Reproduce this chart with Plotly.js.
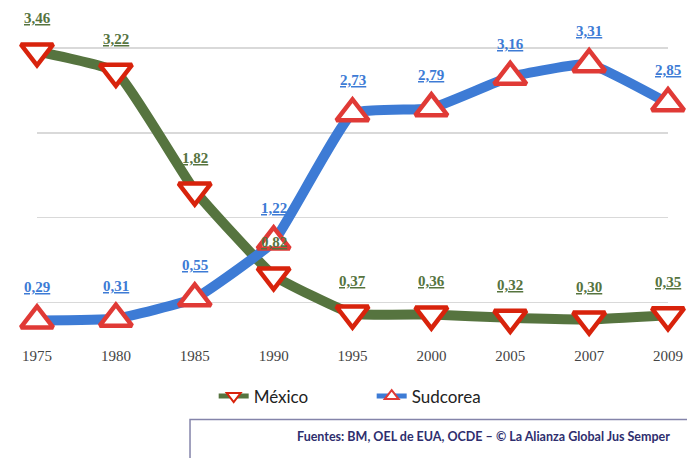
<!DOCTYPE html>
<html>
<head>
<meta charset="utf-8">
<script src="https://cdn.plot.ly/plotly-3.0.1.min.js"></script>
<style>html,body{margin:0;padding:0;background:#fff;}#chart{width:687px;height:458px;}</style>
</head>
<body>
<div id="chart"></div>
<script>
const years = ['1975','1980','1985','1990','1995','2000','2005','2007','2009'];
const mexico = [3.46, 3.22, 1.82, 0.82, 0.37, 0.36, 0.32, 0.30, 0.35];
const sudcorea = [0.29, 0.31, 0.55, 1.22, 2.73, 2.79, 3.16, 3.31, 2.85];
const seriesNames = ['México', 'Sudcorea'];
const sourceText = 'Fuentes: BM, OEL de EUA, OCDE – © La Alianza Global Jus Semper';

const green = '#56743f';
const blue = '#3d7bd5';

function fmt(v){ return v.toFixed(2).replace('.', ','); }

const traces = [
  {
    x: years, y: mexico, name: seriesNames[0], type: 'scatter', mode: 'lines+markers',
    cliponaxis: false,
    line: {color: green, width: 10, shape: 'spline', smoothing: 0.35},
    marker: {symbol: 'triangle-down', size: 28, color: '#ffffff', line: {color: '#d8230c', width: 4.5}}
  },
  {
    x: years, y: sudcorea, name: seriesNames[1], type: 'scatter', mode: 'lines+markers',
    cliponaxis: false,
    line: {color: blue, width: 10, shape: 'spline', smoothing: 0.35},
    marker: {symbol: 'triangle-up', size: 28, color: '#ffffff', line: {color: '#e03a36', width: 4.5}}
  }
];

const annotations = [];
function addLabels(vals, color){
  vals.forEach((v, i) => {
    annotations.push({
      x: i, y: v, xref: 'x', yref: 'y', yshift: 33,
      text: '<b><u>' + fmt(v) + '</u></b>', showarrow: false,
      font: {family: 'Liberation Serif, serif', size: 15, color: color}
    });
  });
}
addLabels(mexico, green);
addLabels(sudcorea, blue);

annotations.push({
  xref: 'paper', yref: 'paper', x: 1.006, y: -0.3076, xanchor: 'right', yanchor: 'middle',
  text: '<b>' + sourceText + '</b>', showarrow: false,
  font: {family: 'Lato, sans-serif', size: 12.5, color: '#2e2e6e'}
});

const layout = {
  width: 687, height: 458,
  margin: {l: 37, r: 19, t: 47, b: 112.5},
  paper_bgcolor: '#ffffff', plot_bgcolor: '#ffffff',
  showlegend: true,
  legend: {
    orientation: 'h', x: 0.280, xanchor: 'left', y: -0.173, yanchor: 'middle',
    entrywidth: 113, entrywidthmode: 'pixels', itemsizing: 'constant', itemwidth: 30,
    font: {family: 'Lato, sans-serif', size: 17, color: '#222'},
    bgcolor: 'rgba(0,0,0,0)'
  },
  xaxis: {
    type: 'category', range: [0, 8], showgrid: false, zeroline: false, showline: false,
    ticks: '', tickfont: {family: 'Liberation Serif, serif', size: 15, color: '#444'},
    fixedrange: true
  },
  yaxis: {
    range: [0, 3.512], tickvals: [0.5, 1.5, 2.5, 3.5], showticklabels: false,
    showgrid: true, gridcolor: '#d9d9d9', gridwidth: 1.5, zeroline: false, showline: false,
    fixedrange: true
  },
  shapes: [{
    type: 'rect', xref: 'paper', yref: 'paper', x0: 0.2425, x1: 1.04, y0: -0.25, y1: -0.40,
    line: {color: '#8484aa', width: 1.5}, fillcolor: '#ffffff', layer: 'below'
  }],
  annotations: annotations
};

Plotly.newPlot('chart', traces, layout, {displayModeBar: false, staticPlot: true});
</script>
</body>
</html>
